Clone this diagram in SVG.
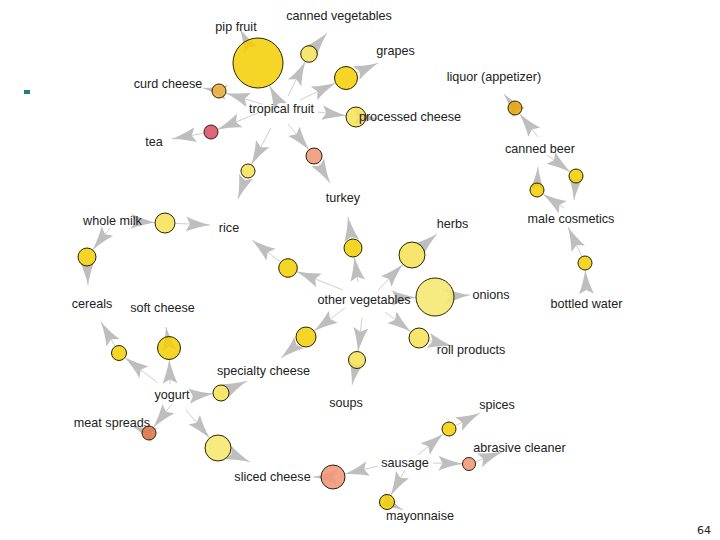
<svg xmlns="http://www.w3.org/2000/svg" width="720" height="540" viewBox="0 0 720 540">
<defs>
<marker id="ah" viewBox="0 0 24 16" refX="24" refY="8" markerWidth="24" markerHeight="16" markerUnits="userSpaceOnUse" orient="auto">
<path d="M0,0.5 Q10,5 24,8 Q10,11 0,15.5 L4,8 Z" fill="#bebebe"/>
</marker>
<style>
.e line{stroke:#cfcfcf;stroke-width:1;marker-end:url(#ah)}
.r{stroke:#2b2200;stroke-width:1;fill-opacity:0.88}
.gold{fill:#F4CF08}
.lt{fill:#F5E35A}
.pale{fill:#F5E870}
.org{fill:#F0B040}
.tea{fill:#D9506A}
.sal{fill:#F0967A}
.meat{fill:#E0784A}
.liq{fill:#E9A70E}
text{font-family:"Liberation Sans",Arial,sans-serif;font-size:12.6px;fill:#222222;text-anchor:middle}
</style>
</defs>
<rect width="720" height="540" fill="#ffffff"/>
<rect x="24" y="90" width="6" height="4" fill="#1f7f7f"/>
<g id="connectors" class="e">
<line x1="279" y1="104" x2="269.4" y2="85.3"/>
<line x1="246.3" y1="40.9" x2="240" y2="29"/>
<line x1="288" y1="96" x2="305.3" y2="61.4"/>
<line x1="314.4" y1="47.7" x2="327" y2="33"/>
<line x1="300" y1="100" x2="335.6" y2="83"/>
<line x1="356.4" y1="73.1" x2="378" y2="63"/>
<line x1="262" y1="104" x2="225.7" y2="93"/>
<line x1="212.1" y1="89.7" x2="203" y2="88"/>
<line x1="258" y1="113" x2="217.5" y2="129.4"/>
<line x1="204.1" y1="133.2" x2="172" y2="139"/>
<line x1="318" y1="112" x2="346.1" y2="115.7"/>
<line x1="366" y1="117.9" x2="378" y2="119"/>
<line x1="288" y1="124" x2="309" y2="149.8"/>
<line x1="318.1" y1="162.9" x2="330" y2="183"/>
<line x1="271" y1="128" x2="251.3" y2="164.8"/>
<line x1="245.6" y1="177.6" x2="238" y2="199"/>
<line x1="343" y1="290" x2="296.6" y2="271.5"/>
<line x1="280.7" y1="262.3" x2="252" y2="240"/>
<line x1="358" y1="282" x2="354.3" y2="256.9"/>
<line x1="351.6" y1="239.1" x2="348" y2="217"/>
<line x1="378" y1="290" x2="402.9" y2="264.3"/>
<line x1="422" y1="246.6" x2="437" y2="234"/>
<line x1="393" y1="298" x2="416" y2="297.5"/>
<line x1="454" y1="296" x2="470" y2="295"/>
<line x1="385" y1="312" x2="411.1" y2="331.9"/>
<line x1="428.7" y1="340.4" x2="452" y2="346"/>
<line x1="345" y1="308" x2="314" y2="331"/>
<line x1="298.3" y1="343.4" x2="281" y2="358"/>
<line x1="362" y1="318" x2="358" y2="351.6"/>
<line x1="355.3" y1="368.3" x2="352" y2="385"/>
<line x1="145" y1="222" x2="155" y2="222.5"/>
<line x1="175" y1="223.4" x2="210" y2="225"/>
<line x1="110" y1="228" x2="92.6" y2="249.9"/>
<line x1="87.3" y1="266" x2="88" y2="285"/>
<line x1="170" y1="384" x2="169.3" y2="359.5"/>
<line x1="167.4" y1="336.6" x2="166" y2="327"/>
<line x1="158" y1="383" x2="124.9" y2="357.6"/>
<line x1="115.2" y1="346.5" x2="101" y2="322"/>
<line x1="192" y1="396" x2="213" y2="393.8"/>
<line x1="228.3" y1="389.6" x2="247" y2="381"/>
<line x1="172" y1="404" x2="153.4" y2="427.5"/>
<line x1="142.5" y1="430.3" x2="132" y2="426"/>
<line x1="186" y1="410" x2="209.6" y2="438.1"/>
<line x1="229.9" y1="453.2" x2="250" y2="462"/>
<line x1="378" y1="466" x2="344.7" y2="474.1"/>
<line x1="321" y1="477" x2="313" y2="477"/>
<line x1="418" y1="455" x2="443.6" y2="433.5"/>
<line x1="455.2" y1="425.8" x2="480" y2="413"/>
<line x1="433" y1="463" x2="462.5" y2="463.8"/>
<line x1="475.1" y1="461.8" x2="502" y2="452"/>
<line x1="405" y1="470" x2="390.7" y2="495.5"/>
<line x1="393.7" y1="505.4" x2="403" y2="510"/>
<line x1="538" y1="137" x2="519.4" y2="113.5"/>
<line x1="510.7" y1="102.5" x2="504" y2="94"/>
<line x1="547" y1="155" x2="570.3" y2="171.9"/>
<line x1="575.4" y1="183" x2="574" y2="200"/>
<line x1="564" y1="208" x2="542.8" y2="193.9"/>
<line x1="537.3" y1="183" x2="538" y2="167"/>
<line x1="586" y1="285" x2="585.3" y2="270"/>
<line x1="582" y1="256.7" x2="568" y2="227"/>
</g>
<g id="rule-pip-fruit"><circle class="r gold" cx="258" cy="63" r="25"/></g>
<g id="rule-canned-vegetables"><circle class="r lt" cx="309" cy="54" r="8.3"/></g>
<g id="rule-grapes"><circle class="r gold" cx="346" cy="78" r="11.5"/></g>
<g id="rule-curd-cheese"><circle class="r org" cx="219" cy="91" r="7"/></g>
<g id="rule-tea"><circle class="r tea" cx="211" cy="132" r="7"/></g>
<g id="rule-processed-cheese"><circle class="r lt" cx="356" cy="117" r="10"/></g>
<g id="rule-turkey-1"><circle class="r sal" cx="314" cy="156" r="8"/></g>
<g id="rule-rice-1"><circle class="r lt" cx="248" cy="171" r="7"/></g>
<g id="rule-rice-2"><circle class="r gold" cx="288" cy="268" r="9.3"/></g>
<g id="rule-turkey-2"><circle class="r gold" cx="353" cy="248" r="9"/></g>
<g id="rule-herbs"><circle class="r lt" cx="412" cy="255" r="13"/></g>
<g id="rule-onions"><circle class="r pale" cx="435" cy="297" r="19"/></g>
<g id="rule-roll-products"><circle class="r lt" cx="419" cy="338" r="10"/></g>
<g id="rule-specialty-cheese-1"><circle class="r gold" cx="306" cy="337" r="10"/></g>
<g id="rule-soups"><circle class="r lt" cx="357" cy="360" r="8.5"/></g>
<g id="rule-whole-milk-rice"><circle class="r lt" cx="165" cy="223" r="10"/></g>
<g id="rule-whole-milk-cereals"><circle class="r gold" cx="87" cy="257" r="9"/></g>
<g id="rule-soft-cheese"><circle class="r gold" cx="169" cy="348" r="11.5"/></g>
<g id="rule-yogurt-cereals"><circle class="r gold" cx="119" cy="353" r="7.5"/></g>
<g id="rule-specialty-cheese-2"><circle class="r lt" cx="221" cy="393" r="8"/></g>
<g id="rule-meat-spreads"><circle class="r meat" cx="149" cy="433" r="7"/></g>
<g id="rule-sliced-cheese-1"><circle class="r pale" cx="218" cy="448" r="13"/></g>
<g id="rule-sliced-cheese-2"><circle class="r sal" cx="333" cy="477" r="12"/></g>
<g id="rule-spices"><circle class="r gold" cx="449" cy="429" r="7"/></g>
<g id="rule-abrasive-cleaner"><circle class="r sal" cx="469" cy="464" r="6.5"/></g>
<g id="rule-mayonnaise"><circle class="r gold" cx="387" cy="502" r="7.5"/></g>
<g id="rule-liquor"><circle class="r liq" cx="515" cy="108" r="7"/></g>
<g id="rule-canned-beer-male"><circle class="r gold" cx="576" cy="176" r="7"/></g>
<g id="rule-male-canned-beer"><circle class="r gold" cx="537" cy="190" r="7"/></g>
<g id="rule-bottled-water"><circle class="r gold" cx="585" cy="263" r="7"/></g>
<g id="item-pip-fruit"><text x="236" y="31">pip fruit</text></g>
<g id="item-canned-vegetables"><text x="339" y="20">canned vegetables</text></g>
<g id="item-grapes"><text x="395.5" y="55">grapes</text></g>
<g id="item-liquor"><text x="494" y="81">liquor (appetizer)</text></g>
<g id="item-curd-cheese"><text x="168" y="88">curd cheese</text></g>
<g id="item-tropical-fruit"><text x="281.5" y="113">tropical fruit</text></g>
<g id="item-processed-cheese"><text x="410" y="121">processed cheese</text></g>
<g id="item-tea"><text x="154" y="146">tea</text></g>
<g id="item-canned-beer"><text x="540" y="153">canned beer</text></g>
<g id="item-turkey"><text x="343" y="202">turkey</text></g>
<g id="item-male-cosmetics"><text x="571" y="223">male cosmetics</text></g>
<g id="item-herbs"><text x="452.5" y="228">herbs</text></g>
<g id="item-whole-milk"><text x="112.5" y="225">whole milk</text></g>
<g id="item-rice"><text x="229" y="232">rice</text></g>
<g id="item-onions"><text x="491" y="299">onions</text></g>
<g id="item-other-vegetables"><text x="364" y="304">other vegetables</text></g>
<g id="item-bottled-water"><text x="586.5" y="308">bottled water</text></g>
<g id="item-cereals"><text x="92" y="308">cereals</text></g>
<g id="item-soft-cheese"><text x="162.5" y="312">soft cheese</text></g>
<g id="item-roll-products"><text x="471" y="354">roll products</text></g>
<g id="item-specialty-cheese"><text x="263.5" y="375">specialty cheese</text></g>
<g id="item-yogurt"><text x="172" y="399">yogurt</text></g>
<g id="item-soups"><text x="346" y="407">soups</text></g>
<g id="item-spices"><text x="497" y="409">spices</text></g>
<g id="item-meat-spreads"><text x="112" y="427">meat spreads</text></g>
<g id="item-abrasive-cleaner"><text x="519.5" y="452">abrasive cleaner</text></g>
<g id="item-sausage"><text x="405" y="467">sausage</text></g>
<g id="item-sliced-cheese"><text x="272.5" y="481">sliced cheese</text></g>
<g id="item-mayonnaise"><text x="420" y="520">mayonnaise</text></g>
<text x="704" y="534" style="font-size:11px;font-family:'DejaVu Sans',sans-serif">64</text>
</svg>
